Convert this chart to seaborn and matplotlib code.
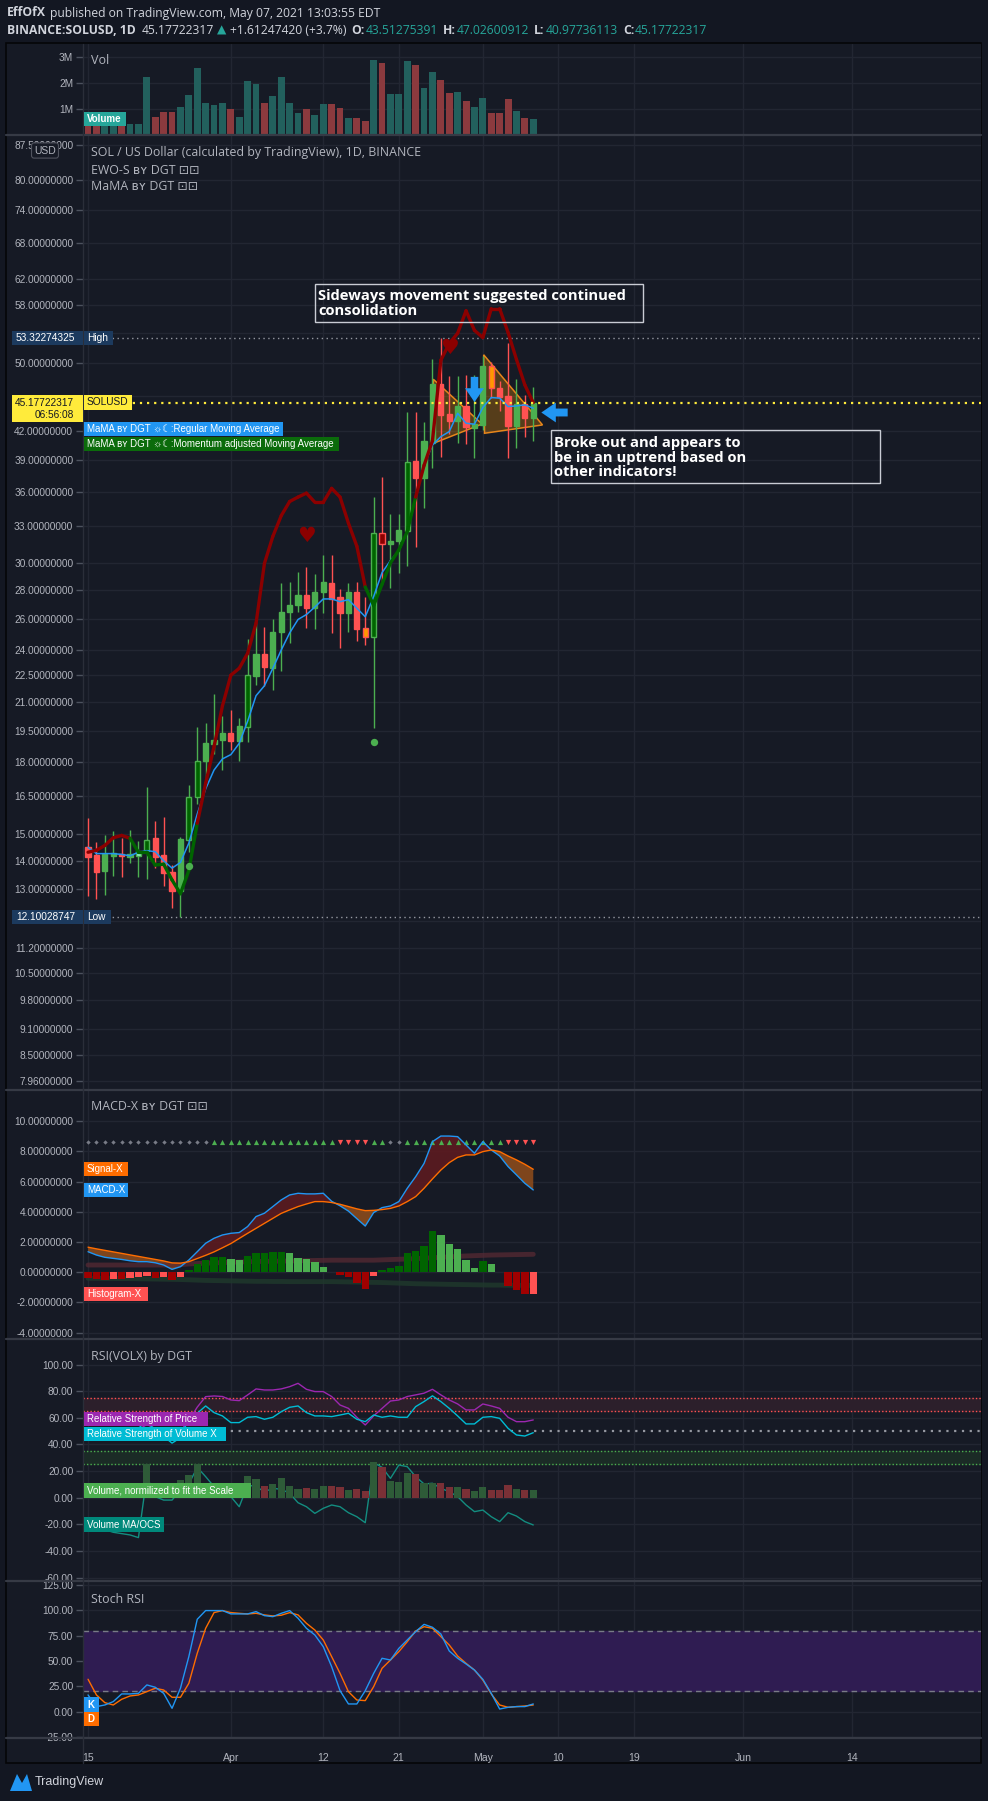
import numpy as np
import pandas as pd
import matplotlib
matplotlib.use("Agg")
import matplotlib.pyplot as plt
import seaborn as sns
from matplotlib import font_manager
from matplotlib.patches import Rectangle, Polygon
from matplotlib.lines import Line2D
from matplotlib.ticker import NullLocator

W, H = 988, 1801
PAGE = "#131722"
BG = "#161a25"
GRID = "#222632"
SEP = "#363a45"
TXT = "#b2b5be"
WHITE = "#d1d4dc"
TEAL = "#26a69a"
UP = "#4caf50"
DOWN = "#ff5252"
SANS = ["Open Sans", "DejaVu Sans"]

# narrow face for scale labels, if the system has one
_installed = {f.name for f in font_manager.fontManager.ttflist}
if "Liberation Sans Narrow" in _installed:
    NARROW, SCALE_FS, TAG_FS = ["Liberation Sans Narrow", "DejaVu Sans"], 8.0, 7.6
else:
    NARROW, SCALE_FS, TAG_FS = ["Liberation Sans", "DejaVu Sans"], 7.3, 7.0

# ---- data (SOLUSD daily) ----
START = "2021-03-15"
opens = [14.51, 14.20, 13.64, 14.18, 14.24, 14.14, 14.15, 14.33, 14.83, 14.20,
         13.60, 12.96, 14.74, 16.46, 18.04, 18.88, 19.07, 19.40, 19.03, 19.73,
         22.47, 23.76, 22.94, 25.10, 26.48, 26.91, 27.61, 26.75, 27.83, 28.48,
         27.47, 26.41, 27.83, 25.37, 24.84, 32.36, 31.51, 31.73, 32.58, 38.95,
         37.31, 40.75, 47.43, 43.95, 43.18, 44.83, 42.41, 42.74, 49.63, 46.92,
         46.00, 42.63, 45.07, 43.51275391]
highs = [15.62, 14.68, 14.94, 15.10, 14.82, 15.14, 14.72, 16.89, 15.49, 15.65,
         13.84, 14.86, 16.97, 19.71, 19.90, 21.43, 20.27, 20.58, 20.18, 24.67,
         25.70, 25.48, 25.98, 28.48, 28.55, 29.31, 29.66, 29.16, 30.61, 30.61,
         28.04, 28.48, 28.55, 27.47, 35.49, 37.41, 34.00, 34.00, 44.12, 44.12,
         43.00, 50.57, 53.32274325, 48.45, 48.45, 48.50, 48.53, 50.96, 50.22, 47.80,
         52.65, 48.04, 46.11, 47.02600912]
lows = [12.77, 12.68, 12.82, 13.46, 13.43, 13.92, 13.41, 13.36, 13.73, 13.12,
        12.41, 12.10028747, 14.31, 16.20, 17.21, 18.39, 17.65, 18.58, 18.08, 18.98,
        21.95, 21.90, 21.66, 22.76, 24.46, 26.48, 25.41, 25.35, 26.41, 25.05,
        24.11, 25.10, 24.58, 24.31, 19.67, 28.52, 28.15, 29.26, 29.76, 31.22,
        34.50, 38.22, 39.37, 41.70, 40.75, 40.66, 39.21, 42.16, 45.73, 44.20,
        39.21, 40.29, 41.38, 40.97736113]
closes = [14.13, 13.60, 14.23, 14.24, 14.16, 14.17, 14.33, 14.77, 14.14, 13.57,
          12.96, 14.78, 16.46, 18.05, 18.90, 19.05, 19.40, 19.03, 19.76, 22.51,
          23.76, 23.00, 25.12, 26.43, 26.91, 27.61, 26.75, 27.83, 28.55, 27.35,
          26.41, 27.83, 25.35, 24.84, 32.36, 31.46, 31.73, 32.64, 38.81, 37.26,
          40.96, 47.43, 43.85, 43.18, 44.83, 42.52, 42.81, 49.63, 46.92, 45.91,
          42.63, 45.03, 43.51, 45.17722317]
volume_m = [0.60, 0.55, 0.50, 0.65, 0.45, 0.44, 0.42, 2.23, 0.71, 0.87,
            0.87, 1.06, 1.53, 2.58, 1.22, 1.14, 1.22, 1.00, 0.71, 2.09,
            1.96, 1.22, 1.49, 2.23, 1.22, 0.83, 1.00, 0.75, 1.18, 1.18,
            1.04, 0.67, 0.67, 0.52, 2.90, 2.77, 1.57, 1.57, 2.85, 2.70,
            1.80, 2.42, 2.11, 1.61, 1.65, 1.30, 1.06, 1.41, 0.83, 0.83,
            1.37, 0.91, 0.67, 0.63]

# MaMA by DGT
mama_regular = [14.48, 14.25, 14.25, 14.25, 14.22, 14.17, 14.30, 14.36, 14.32, 13.99,
                13.73, 13.93, 14.64, 15.77, 16.82, 17.65, 18.16, 18.36, 18.90, 20.00,
                21.35, 21.90, 22.90, 24.00, 25.07, 25.95, 26.28, 26.79, 27.35, 27.35,
                27.16, 27.30, 26.71, 26.13, 27.52, 29.26, 30.17, 30.95, 32.47, 35.45,
                38.50, 40.57, 41.44, 41.98, 43.99, 42.89, 42.78, 44.65, 45.80, 45.73,
                44.76, 44.83, 44.95, 44.57]
mama_momentum = [14.30, 14.37, 14.55, 14.84, 14.93, 14.82, 14.30, 14.30, 13.84, 13.87,
                 13.32, 12.86, 13.65, 15.40, 17.06, 18.74, 20.80, 22.50, 22.90, 23.80,
                 25.70, 29.96, 32.10, 33.85, 35.10, 35.50, 35.86, 35.03, 35.03, 36.30,
                 35.50, 33.20, 31.30, 28.20, 26.90, 28.40, 30.00, 31.00, 32.50, 35.50,
                 38.50, 41.00, 50.40, 52.60, 54.00, 57.20, 54.40, 53.40, 57.50, 57.50,
                 54.10, 50.50, 47.30, 45.20]
mama_momentum_bear = [1, 1, 1, 1, 1, 1, 0, 0, 0, 0, 0, 0, 0, 0, 1, 1, 1, 1, 1, 1,
                      1, 1, 1, 1, 1, 1, 1, 1, 1, 1, 1, 1, 1, 1, 0, 0, 0, 0, 0, 0,
                      1, 1, 1, 1, 1, 1, 1, 1, 1, 1, 1, 1, 1, 1]
strong_up_days = [7, 12, 13, 19, 34, 38]
strong_down_days = [35]
warn_days = [33, 48]
cross_days = [6]

# EWO-S signals
ewo_sell_days = [26, 43]
ewo_sell_prices = [32.1, 52.0]
ewo_buy_days = [12, 34]
ewo_buy_prices = [13.82, 18.98]
arrow_down_days = [46]
arrow_down_prices = [46.8]
arrow_left_days = [55.5]
arrow_left_prices = [44.1]
triangle_1 = [(41.1, 48.0), (41.3, 40.8), (46.9, 42.8)]
triangle_2 = [(47.1, 51.1), (47.2, 41.8), (54.1, 42.7)]

price_ticks = [7.96, 8.5, 9.1, 9.8, 10.5, 11.2, 12.0, 13.0, 14.0, 15.0, 16.5, 18.0,
               19.5, 21.0, 22.5, 24.0, 26.0, 28.0, 30.0, 33.0, 36.0, 39.0, 42.0,
               46.0, 50.0, 54.0, 58.0, 62.0, 68.0, 74.0, 80.0, 87.5]
# ticks whose label sits under the High / Low / last-price boxes
price_ticks_covered = [12.0, 46.0, 54.0]

# MACD-X by DGT
macd = [1.36, 1.14, 0.99, 0.92, 0.85, 0.76, 0.70, 0.70, 0.63, 0.48,
        0.19, 0.37, 0.81, 1.36, 1.92, 2.25, 2.47, 2.58, 2.63, 3.03,
        3.69, 3.91, 4.35, 4.79, 5.12, 5.23, 5.19, 5.19, 5.23, 4.70,
        4.40, 4.05, 3.55, 3.06, 3.95, 4.28, 4.39, 4.68, 5.56, 6.33,
        7.21, 8.65, 9.02, 9.02, 8.98, 8.43, 7.88, 8.65, 8.10, 7.70,
        7.00, 6.45, 5.89, 5.45]
signal = [1.66, 1.55, 1.45, 1.35, 1.25, 1.15, 1.05, 0.95, 0.85, 0.75,
          0.62, 0.60, 0.70, 0.91, 1.12, 1.35, 1.62, 1.90, 2.24, 2.58,
          2.91, 3.24, 3.57, 3.90, 4.13, 4.35, 4.52, 4.68, 4.68, 4.62,
          4.50, 4.35, 4.20, 4.08, 4.10, 4.15, 4.23, 4.39, 4.68, 5.01,
          5.56, 6.18, 6.77, 7.26, 7.61, 7.77, 7.77, 7.99, 8.10, 7.99,
          7.70, 7.44, 7.15, 6.82]
histogram = [-0.35, -0.46, -0.51, -0.44, -0.44, -0.40, -0.33, -0.24, -0.40, -0.33,
             -0.51, -0.29, 0.15, 0.55, 0.82, 1.04, 1.04, 0.86, 0.82, 1.10,
             1.26, 1.26, 1.37, 1.37, 1.26, 0.97, 0.86, 0.66, 0.38, 0.03,
             -0.18, -0.29, -0.73, -1.10, -0.24, 0.15, 0.31, 0.44, 1.26, 1.43,
             1.77, 2.74, 2.47, 1.88, 1.55, 0.82, 0.31, 0.75, 0.53, 0.04,
             -0.88, -1.17, -1.43, -1.43]
macd_upper = [0.48, 0.48, 0.48, 0.48, 0.48, 0.48, 0.48, 0.48, 0.48, 0.48,
              0.48, 0.50, 0.55, 0.58, 0.60, 0.62, 0.64, 0.66, 0.68, 0.70,
              0.71, 0.72, 0.73, 0.74, 0.75, 0.76, 0.77, 0.78, 0.79, 0.80,
              0.80, 0.80, 0.80, 0.80, 0.80, 0.82, 0.84, 0.86, 0.88, 0.90,
              0.93, 0.96, 0.99, 1.02, 1.05, 1.08, 1.10, 1.12, 1.14, 1.15,
              1.16, 1.17, 1.18, 1.19]
macd_lower = [-0.40, -0.40, -0.41, -0.41, -0.42, -0.42, -0.43, -0.44, -0.45, -0.46,
              -0.47, -0.48, -0.50, -0.52, -0.54, -0.55, -0.56, -0.57, -0.58, -0.59,
              -0.60, -0.60, -0.61, -0.61, -0.62, -0.62, -0.62, -0.62, -0.62, -0.62,
              -0.63, -0.64, -0.65, -0.66, -0.67, -0.68, -0.70, -0.72, -0.74, -0.76,
              -0.77, -0.78, -0.79, -0.80, -0.81, -0.82, -0.83, -0.84, -0.85, -0.85,
              -0.86, -0.86, -0.87, -0.87]
# 0 neutral, 1 bullish, -1 bearish
macd_state = [0, 0, 0, 0, 0, 0, 0, 0, 0, 0, 0, 0, 0, 0, 0,
              1, 1, 1, 1, 1, 1, 1, 1, 1, 1, 1, 1, 1, 1, 1,
              -1, -1, -1, -1, 1, 1, 0, 0,
              1, 1, 1, 1, 1, 1, 1, 1, 1, 1, 1, 1,
              -1, -1, -1, -1]
MACD_STATE_LEVEL = 8.63

# RSI(VOLX) by DGT
rsi_price = [52, 48, 50, 50, 49, 50, 51, 55, 52, 48,
             45, 50, 58, 68, 75.9, 76.4, 76.0, 73.4, 72.9, 77.2,
             81.7, 80.9, 80.9, 81.7, 83.4, 85.9, 81.4, 79.7, 79.7, 76.0,
             69.6, 67.1, 60.4, 54.6, 61.4, 67.1, 72.6, 73.4, 76.0, 77.2,
             78.5, 81.4, 77.2, 73.4, 70.4, 65.9, 65.9, 70.4, 68.9, 67.1,
             60.4, 57.1, 57.1, 58.4]
rsi_volume = [50, 48, 47, 50, 49, 48, 52, 58, 50, 46,
              41, 45, 59.6, 63.4, 68.9, 63.9, 61.4, 56.4, 56.4, 60.4,
              60.9, 58.9, 60.4, 64.6, 67.9, 68.9, 63.9, 61.4, 61.4, 60.9,
              62.1, 63.4, 58.9, 57.1, 62.1, 60.4, 61.4, 60.4, 60.4, 68.4,
              72.2, 76.5, 72.2, 67.1, 61.4, 55.4, 55.4, 60.4, 60.9, 59.6,
              52.1, 47.1, 46.3, 48.8]
volume_scaled = [6.0, 5.5, 5.0, 6.5, 4.5, 4.4, 4.2, 25.0, 7.1, 8.7,
                 8.7, 13.3, 17.0, 25.0, 10.0, 9.5, 10.0, 8.5, 6.5, 16.3,
                 14.0, 9.0, 10.3, 15.0, 9.0, 6.5, 7.5, 6.5, 8.8, 8.8,
                 8.3, 5.8, 6.5, 5.0, 26.8, 23.0, 12.5, 12.0, 18.5, 18.0,
                 11.0, 11.0, 11.0, 8.0, 8.0, 6.5, 5.0, 8.0, 5.5, 6.0,
                 9.5, 6.5, 6.0, 5.8]
volume_osc = [-20, -22, -24, -26, -27, -28, -30, 16, 0.8, -1.8,
              -1.8, 5.8, 10.3, 22.8, 15.8, 8.3, 3.3, 0.8, -6.8, 9.5,
              8.3, 4.5, 7.0, 6.3, 3.3, -3.8, -6.8, -11.8, -8.0, -5.5,
              -6.8, -11.3, -14.3, -18.8, 26.3, 22.8, 14.5, 24.5, 23.3, 15.8,
              10.3, 10.8, 7.0, 4.5, 0.8, -5.5, -10.5, -9.3, -14.3, -18.0,
              -11.3, -13.8, -18.0, -20.5]

# Stoch RSI
stoch_k = [16.5, 5.0, 6.6, 9.9, 17.5, 17.5, 18.1, 26.4, 24.1, 18.1,
           3.3, 23.1, 54.4, 91.2, 99.8, 99.8, 99.8, 96.5, 96.5, 96.5,
           98.8, 94.8, 93.8, 97.1, 99.8, 92.2, 82.3, 75.7, 64.2, 44.4,
           20.7, 7.6, 7.6, 20.7, 37.8, 52.7, 51.0, 62.5, 70.8, 79.0,
           86.2, 83.3, 76.7, 59.9, 52.7, 47.1, 41.1, 31.9, 18.1, 2.6,
           4.3, 5.0, 5.0, 7.6]
stoch_d = [32.0, 16.5, 8.9, 6.6, 12.2, 15.5, 16.5, 19.8, 23.1, 21.4,
           14.2, 14.2, 28.0, 57.7, 82.3, 97.8, 99.8, 97.8, 97.1, 96.5,
           97.1, 95.5, 94.5, 95.2, 97.8, 95.5, 87.2, 80.6, 70.8, 54.3,
           37.8, 19.7, 11.5, 10.9, 24.7, 42.8, 51.0, 59.3, 69.1, 79.6,
           83.9, 82.3, 74.1, 65.8, 54.9, 47.7, 41.1, 31.2, 17.5, 6.6,
           4.3, 5.0, 5.6, 6.6]

tick_dates = ["2021-03-15", "2021-04-01", "2021-04-12", "2021-04-21", "2021-05-01",
              "2021-05-10", "2021-05-19", "2021-06-01", "2021-06-14"]
tick_labels = ["15", "Apr", "12", "21", "May", "10", "19", "Jun", "14"]


def fx(x):
    return x / W


def fy(y):
    return 1 - y / H


def px_rect(x0, y0, x1, y1, color, edgecolor="none", **kw):
    r = Rectangle((fx(x0), fy(y1)), (x1 - x0) / W, (y1 - y0) / H,
                  transform=fig.transFigure, facecolor=color, edgecolor=edgecolor, **kw)
    fig.add_artist(r)
    return r


def tag(x0, y0, x1, y1, text, bg, fg="white", size=None, weight="normal"):
    # label box that grows to fit its text
    t = fig.text(fx(x0 + 3), fy((y0 + y1) / 2), text, color=fg, fontsize=size or TAG_FS,
                 fontweight=weight, family=NARROW, va="center", ha="left", zorder=21)
    right = max(x1, t.get_window_extent(renderer=renderer).x1 + 3)
    px_rect(x0, y0, right, y1, bg, zorder=20)


def panel(y0, y1, share=None):
    ax = fig.add_axes([fx(83), fy(y1), fx(981) - fx(83), (y1 - y0) / H], sharex=share)
    ax.set_facecolor(BG)
    for s in ax.spines.values():
        s.set_visible(False)
    ax.set_axisbelow(True)
    ax.grid(True, color=GRID, lw=1)
    ax.tick_params(axis="y", left=True, length=5, width=1, color="#4c525e",
                   labelsize=SCALE_FS, labelcolor=TXT, pad=2)
    ax.tick_params(axis="x", bottom=False, labelbottom=False)
    return ax


sns.set_theme(style="dark")
plt.rcParams["font.family"] = NARROW
plt.rcParams["axes.unicode_minus"] = False

fig = plt.figure(figsize=(W / 100, H / 100), dpi=100, facecolor=PAGE)
renderer = fig.canvas.get_renderer()

dates = pd.date_range(START, periods=len(closes), freq="D")
x = np.array((dates - dates[0]).days, dtype=float)
ticks_x = np.array((pd.to_datetime(tick_dates) - dates[0]).days, dtype=float)
o, h, l, c = map(np.array, (opens, highs, lows, closes))
rising = c >= o

# chart frame
px_rect(6, 43, 981, 1763, BG, edgecolor="#050608", lw=1.2, zorder=0)

ax_vol = panel(44, 135)
ax_p = panel(135, 1090, ax_vol)
ax_m = panel(1090, 1339, ax_vol)
ax_r = panel(1339, 1581, ax_vol)
ax_s = panel(1581, 1738, ax_vol)
ax_vol.set_xlim(-0.6, 106.3)
ax_vol.set_xticks(ticks_x)

# ---- volume ----
vol_cols = np.where(rising, "#22605d", "#8b3a3e")
ax_vol.bar(x, volume_m, width=0.82, color=vol_cols, linewidth=0)
ax_vol.set_ylim(0, 3.5)
ax_vol.set_yticks([1, 2, 3])
ax_vol.set_yticklabels(["1M", "2M", "3M"])

# ---- price ----
ax_p.set_yscale("log")
ax_p.set_ylim(7.78, 89.7)
ax_p.yaxis.set_minor_locator(NullLocator())
ax_p.set_yticks(price_ticks)
ax_p.set_yticklabels(["" if v in price_ticks_covered else f"{v:.8f}" for v in price_ticks])

ax_p.axhline(max(highs), color="#9598a1", lw=1, ls=(0, (1, 2.5)), zorder=1)
ax_p.axhline(min(lows), color="#9598a1", lw=1, ls=(0, (1, 2.5)), zorder=1)

for tri in (triangle_1, triangle_2):
    ax_p.add_patch(Polygon(tri, closed=True, facecolor="#ff9800", alpha=0.28,
                           edgecolor="none", zorder=2))
    ax_p.add_patch(Polygon(tri, closed=True, facecolor="none",
                           edgecolor="#e8861a", lw=1.1, zorder=2))

wick_cols = np.where(rising, UP, DOWN)
fills = list(wick_cols)
edges = list(wick_cols)
for d in strong_up_days:
    fills[d] = "#006400"
for d in strong_down_days:
    fills[d] = "#8b0000"
for d in warn_days:
    fills[d] = "#ff9800"
for d in cross_days:
    fills[d] = "#8ef0c0"
ax_p.vlines(x, l, h, colors=wick_cols, lw=1, zorder=3)
body_lo = np.minimum(o, c)
body_h = np.maximum(np.abs(c - o), body_lo * 0.006)
ax_p.bar(x, body_h, bottom=body_lo, width=0.62, color=fills, edgecolor=edges,
         linewidth=1, zorder=4)

sns.lineplot(x=x, y=mama_regular, ax=ax_p, color="#2196f3", linewidth=1.1, zorder=5)
mom = np.array(mama_momentum)
bear = np.array(mama_momentum_bear)
for i in range(len(x) - 1):
    col = "#8b0000" if bear[i + 1] else "#006400"
    ax_p.plot(x[i:i + 2], mom[i:i + 2], color=col, lw=2.4, solid_capstyle="round", zorder=5)

ax_p.scatter(ewo_buy_days, ewo_buy_prices, s=28, color=UP, zorder=6, linewidths=0)
for d, p in zip(ewo_sell_days, ewo_sell_prices):
    ax_p.text(d, p, "\u2665", color="#8b0000", fontsize=15, ha="center", va="center",
              family=["DejaVu Sans"], zorder=6)
down_arrow = [(-0.3, 1), (0.3, 1), (0.3, 0.1), (0.75, 0.1), (0, -1), (-0.75, 0.1), (-0.3, 0.1)]
left_arrow = [(1, -0.3), (1, 0.3), (0.1, 0.3), (0.1, 0.75), (-1, 0), (0.1, -0.75), (0.1, -0.3)]
ax_p.scatter(arrow_down_days, arrow_down_prices, marker=down_arrow, s=330,
             color="#2196f3", zorder=7, linewidths=0)
ax_p.scatter(arrow_left_days, arrow_left_prices, marker=left_arrow, s=360,
             color="#2196f3", zorder=7, linewidths=0)
ax_p.axhline(c[-1], color="#ffeb3b", lw=1.6, ls=(0, (1, 2.2)), zorder=6)

# text notes
ax_p.add_patch(Rectangle((26.96, 55.55), 66.1 - 26.96, 61.2 - 55.55, facecolor="none",
                         edgecolor="#c9ccd4", lw=1, zorder=8))
ax_p.text(27.4, 58.3, "Sideways movement suggested continued\nconsolidation", color="white",
          fontsize=10.6, fontweight="bold", family=SANS, va="center", ha="left",
          linespacing=1.1, zorder=8)
ax_p.add_patch(Rectangle((55.08, 36.78), 94.26 - 55.08, 42.16 - 36.78, facecolor="none",
                         edgecolor="#c9ccd4", lw=1, zorder=8))
ax_p.text(55.5, 39.27, "Broke out and appears to\nbe in an uptrend based on\nother indicators!",
          color="white", fontsize=10.6, fontweight="bold", family=SANS, va="center",
          ha="left", linespacing=1.05, zorder=8)

# ---- MACD-X ----
ax_m.set_ylim(-4.42, 12.07)
mticks = [-4, -2, 0, 2, 4, 6, 8, 10]
ax_m.set_yticks(mticks)
ax_m.set_yticklabels([f"{v:.8f}" for v in mticks])
mc, sg, hs = np.array(macd), np.array(signal), np.array(histogram)
sns.lineplot(x=x, y=macd_upper, ax=ax_m, color="#5b2a34", linewidth=3.5, alpha=0.7)
sns.lineplot(x=x, y=macd_lower, ax=ax_m, color="#1f3a2c", linewidth=3.5, alpha=0.8)
prev = np.concatenate([[hs[0]], hs[:-1]])
hcols = np.where(hs >= 0, np.where(hs >= prev, "#006400", UP),
                 np.where(hs <= prev, "#a00000", DOWN))
hcols[-1] = DOWN
ax_m.bar(x, hs, width=0.88, color=hcols, linewidth=0, zorder=3)
ax_m.fill_between(x, mc, sg, where=mc >= sg, interpolate=True, color="#5c1a20", alpha=0.9, lw=0)
ax_m.fill_between(x, mc, sg, where=mc < sg, interpolate=True, color="#8a4a1c", alpha=0.9, lw=0)
sns.lineplot(x=x, y=macd, ax=ax_m, color="#2196f3", linewidth=1.0)
sns.lineplot(x=x, y=signal, ax=ax_m, color="#ff6d00", linewidth=1.0)
st = np.array(macd_state)
lvl = np.full(len(x), MACD_STATE_LEVEL)
ax_m.scatter(x[st == 0], lvl[st == 0], marker="D", s=5, color="#787b86", linewidths=0)
ax_m.scatter(x[st == 1], lvl[st == 1], marker="^", s=14, color=UP, linewidths=0)
ax_m.scatter(x[st == -1], lvl[st == -1], marker="v", s=14, color=DOWN, linewidths=0)

# ---- RSI(VOLX) ----
ax_r.set_ylim(-62.6, 119.2)
rticks = [-60, -40, -20, 0, 20, 40, 60, 80, 100]
ax_r.set_yticks(rticks)
ax_r.set_yticklabels([f"{v:.2f}" for v in rticks])
ax_r.axhspan(65, 75, color="#2c1f2b", zorder=1)
ax_r.axhspan(25, 35, color="#1b2b26", zorder=1)
for lv, col in ((75, "#ff5252"), (65, "#ff5252"), (35, "#4caf50"), (25, "#4caf50")):
    ax_r.axhline(lv, color=col, lw=1, ls=(0, (1, 1.5)), zorder=2)
ax_r.axhline(50, color="#9598a1", lw=1.6, ls=(0, (1, 2.5)), zorder=2)
ax_r.bar(x, volume_scaled, width=0.85, color=np.where(rising, "#2e5b38", "#7a3036"),
         linewidth=0, zorder=3)
sns.lineplot(x=x, y=volume_osc, ax=ax_r, color="#138d80", linewidth=1.0)
sns.lineplot(x=x, y=rsi_price, ax=ax_r, color="#9c27b0", linewidth=1.0)
sns.lineplot(x=x, y=rsi_volume, ax=ax_r, color="#00bcd4", linewidth=1.0)

# ---- Stoch RSI ----
ax_s.set_ylim(-26, 129)
sticks = [-25, 0, 25, 50, 75, 100, 125]
ax_s.set_yticks(sticks)
ax_s.set_yticklabels([f"{v:.2f}" for v in sticks])
ax_s.axhspan(20, 80, color="#2f1c52", zorder=1)
ax_s.axhline(80, color="#787b86", lw=1, ls=(0, (4, 3)), zorder=2)
ax_s.axhline(20, color="#787b86", lw=1, ls=(0, (4, 3)), zorder=2)
sns.lineplot(x=x, y=stoch_d, ax=ax_s, color="#ff6d00", linewidth=1.0)
sns.lineplot(x=x, y=stoch_k, ax=ax_s, color="#2196f3", linewidth=1.0)
ax_s.tick_params(axis="x", labelbottom=True, labelsize=SCALE_FS + 0.3, labelcolor=TXT, pad=5)
ax_s.set_xticklabels(tick_labels)

for ax in (ax_vol, ax_p, ax_m, ax_r, ax_s):
    ax.set_xlabel("")
    ax.set_ylabel("")
    if ax.get_legend():
        ax.get_legend().remove()

# separators and axis line
for yy in (135, 1090, 1339, 1581, 1738):
    fig.add_artist(Line2D([fx(6), fx(981)], [fy(yy), fy(yy)], color=SEP, lw=1.6,
                          transform=fig.transFigure, zorder=10))
fig.add_artist(Line2D([fx(83), fx(83)], [fy(44), fy(1763)], color="#2a2e39", lw=1,
                      transform=fig.transFigure, zorder=10))

# ---- overlay texts ----
fig.text(fx(91), fy(61), "Vol", color=TXT, fontsize=9, family=SANS, va="center")
tag(84, 112, 126, 126, "Volume", TEAL, weight="bold")
fig.text(fx(91), fy(152.5), "SOL / US Dollar (calculated by TradingView), 1D, BINANCE",
         color=TXT, fontsize=8.9, family=SANS, va="center")
fig.text(fx(91), fy(170), "EWO-S \u0299\u028f DGT \u22a1\u22a1", color=TXT, fontsize=8.9,
         family=SANS, va="center")
fig.text(fx(91), fy(187), "MaMA \u0299\u028f DGT \u22a1\u22a1", color=TXT, fontsize=8.9,
         family=SANS, va="center")
fig.text(fx(45), fy(150.5), "USD", color=TXT, fontsize=7.5, ha="center", va="center", zorder=22,
         bbox=dict(boxstyle="round,pad=0.25", facecolor=BG, edgecolor="#50535e", lw=0.8))


def price_top(p):
    return H - ax_p.transData.transform((0, p))[1]


yh = price_top(max(highs))
px_rect(12, yh - 7, 83, yh + 7, "#1c3a5e", zorder=20)
fig.text(fx(75), fy(yh), f"{max(highs):.8f}", color="white", fontsize=SCALE_FS, ha="right",
         va="center", zorder=21)
tag(84, yh - 7, 113, yh + 7, "High", "#1c3a5e", size=SCALE_FS)
yl = price_top(min(lows))
px_rect(12, yl - 7, 83, yl + 7, "#1c3a5e", zorder=20)
fig.text(fx(75), fy(yl), f"{min(lows):.8f}", color="white", fontsize=SCALE_FS, ha="right",
         va="center", zorder=21)
tag(84, yl - 7, 111, yl + 7, "Low", "#1c3a5e", size=SCALE_FS)
yc = price_top(c[-1])
px_rect(12, yc - 8, 83, yc + 19, "#ffeb3b", zorder=20)
fig.text(fx(74), fy(yc), f"{c[-1]:.8f}", color="#131722", fontsize=SCALE_FS, ha="right",
         va="center", zorder=21)
fig.text(fx(74), fy(yc + 12), "06:56:08", color="#131722", fontsize=SCALE_FS, ha="right",
         va="center", zorder=21)
tag(84, yc - 8, 128, yc + 7, "SOLUSD", "#ffeb3b", fg="#131722", size=SCALE_FS)

tag(84, 422, 281, 436, "MaMA \u0299\u028f DGT \u263c\u263e:Regular Moving Average", "#2196f3")
tag(84, 437, 339, 451, "MaMA \u0299\u028f DGT \u263c\u263e:Momentum adjusted Moving Average",
    "#0b6b0b")

fig.text(fx(91), fy(1107), "MACD-X \u0299\u028f DGT \u22a1\u22a1", color=TXT, fontsize=8.9,
         family=SANS, va="center")
tag(84, 1162, 128, 1176, "Signal-X", "#ff6d00")
tag(84, 1183, 128, 1197, "MACD-X", "#2196f3")
tag(84, 1287, 148, 1301, "Histogram-X", "#ff5252")

fig.text(fx(91), fy(1356), "RSI(VOLX) by DGT", color=TXT, fontsize=8.9, family=SANS, va="center")
tag(84, 1412, 208, 1426, "Relative Strength of Price", "#9c27b0")
tag(84, 1427, 226, 1441, "Relative Strength of Volume X", "#00bcd4")
tag(84, 1483, 251, 1498, "Volume, normilized to fit the Scale", "#4caf50")
tag(84, 1517, 164, 1532, "Volume MA/OCS", "#00897b")

fig.text(fx(91), fy(1599), "Stoch RSI", color=TXT, fontsize=8.9, family=SANS, va="center")
tag(84, 1697, 99, 1712, "K", "#2196f3", weight="bold")
tag(84, 1712, 99, 1726, "D", "#ff6d00", weight="bold")


# ---- header ----
def run_text(x0, y0, parts, size=8.7):
    xx = x0
    for text, color, weight, gap in parts:
        t = fig.text(fx(xx), fy(y0), text, color=color, fontsize=size, fontweight=weight,
                     family=SANS, va="center", ha="left")
        xx = t.get_window_extent(renderer=renderer).x1 + gap


run_text(7, 13, [("EffOfX", WHITE, "bold", 4),
                 ("published on TradingView.com, May 07, 2021 13:03:55 EDT", WHITE, "normal", 0)])
run_text(7, 30, [("BINANCE:SOLUSD, 1D", WHITE, "bold", 6),
                 (f"{c[-1]:.8f}", WHITE, "normal", 3),
                 ("\u25b2", TEAL, "normal", 4),
                 ("+1.61247420 (+3.7%)", WHITE, "normal", 4),
                 ("O:", WHITE, "bold", 1), (f"{o[-1]:.8f}", TEAL, "normal", 5),
                 ("H:", WHITE, "bold", 1), (f"{h[-1]:.8f}", TEAL, "normal", 5),
                 ("L:", WHITE, "bold", 1), (f"{l[-1]:.8f}", TEAL, "normal", 5),
                 ("C:", WHITE, "bold", 1), (f"{c[-1]:.8f}", TEAL, "normal", 0)], size=8.7)

# footer logo
fig.add_artist(Polygon([(fx(10), fy(1791)), (fx(17), fy(1774)), (fx(22), fy(1783)),
                        (fx(27), fy(1774)), (fx(32), fy(1791))], closed=True,
                       facecolor="#2196f3", edgecolor="none", transform=fig.transFigure))
fig.text(fx(35), fy(1782), "TradingView", color=WHITE, fontsize=9, va="center")

fig.savefig("out.png", dpi=100, facecolor=PAGE)
